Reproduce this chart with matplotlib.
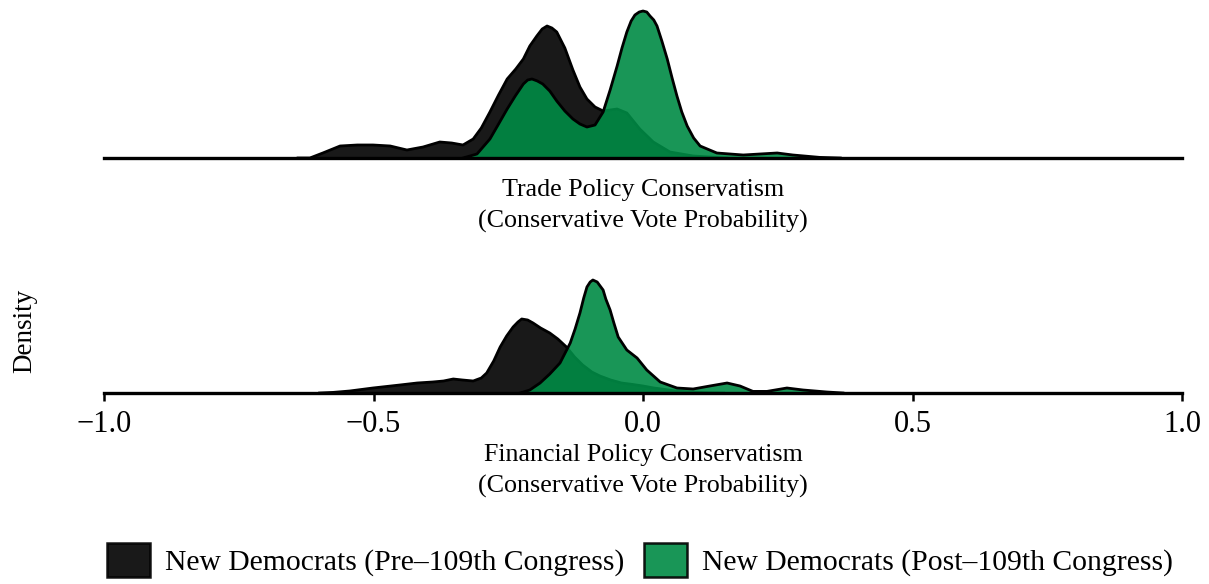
import matplotlib
matplotlib.use("Agg")
import matplotlib.pyplot as plt
from matplotlib.patches import Patch

plt.rcParams['font.family'] = ['Liberation Serif', 'DejaVu Serif']
plt.rcParams['axes.unicode_minus'] = True

# density curves (x = vote probability, y = density)
trade_pre_x = [-0.64, -0.618, -0.594, -0.562, -0.53, -0.501, -0.469, -0.438, -0.408, -0.377,
               -0.355, -0.334, -0.315, -0.30, -0.284, -0.268, -0.252, -0.236, -0.222, -0.21,
               -0.197, -0.187, -0.178, -0.169, -0.16, -0.145, -0.13, -0.117, -0.104, -0.089,
               -0.074, -0.061, -0.048, -0.03, -0.006, 0.019, 0.05, 0.093, 0.156]
trade_pre_y = [0, 0, 0.25, 0.6, 0.65, 0.65, 0.6, 0.4, 0.55, 0.8,
               0.75, 0.65, 0.95, 1.5, 2.3, 3.15, 3.95, 4.45, 4.95, 5.6,
               6.1, 6.45, 6.6, 6.5, 6.3, 5.5, 4.4, 3.55, 2.95, 2.55,
               2.35, 2.4, 2.45, 2.25, 1.45, 0.8, 0.3, 0.1, 0]

trade_post_x = [-0.334, -0.308, -0.284, -0.269, -0.252, -0.237, -0.222, -0.214, -0.206, -0.196,
                -0.186, -0.173, -0.16, -0.145, -0.13, -0.117, -0.104, -0.089, -0.074, -0.061,
                -0.048, -0.039, -0.03, -0.022, -0.015, -0.007, 0.0, 0.007, 0.013, 0.02,
                0.026, 0.035, 0.045, 0.054, 0.063, 0.072, 0.082, 0.094, 0.106,
                0.137, 0.186, 0.217, 0.249, 0.278, 0.328, 0.366]
trade_post_y = [0, 0.2, 0.95, 1.65, 2.45, 3.1, 3.7, 3.9, 3.95, 3.85,
                3.7, 3.35, 2.85, 2.35, 1.95, 1.7, 1.55, 1.65, 2.3, 3.4,
                4.6, 5.5, 6.3, 6.85, 7.15, 7.3, 7.35, 7.3, 7.1, 6.9,
                6.6, 5.85, 4.95, 4.0, 3.1, 2.3, 1.6, 1.0, 0.6,
                0.25, 0.15, 0.2, 0.25, 0.15, 0.03, 0]

fin_pre_x = [-0.60, -0.575, -0.544, -0.501, -0.451, -0.419, -0.39, -0.37, -0.352, -0.335,
             -0.315, -0.30, -0.29, -0.277, -0.265, -0.253, -0.241, -0.232, -0.225, -0.214,
             -0.204, -0.19, -0.173, -0.158, -0.142, -0.127, -0.112, -0.095, -0.08, -0.06,
             -0.04, -0.02, 0.0, 0.02, 0.04, 0.06, 0.09, 0.12, 0.15]
fin_pre_y = [0, 0.03, 0.1, 0.25, 0.4, 0.5, 0.55, 0.6, 0.7, 0.65,
             0.6, 0.75, 1.0, 1.6, 2.3, 2.85, 3.3, 3.55, 3.7, 3.65,
             3.5, 3.25, 3.0, 2.7, 2.3, 1.8, 1.4, 1.05, 0.85, 0.65,
             0.5, 0.43, 0.35, 0.25, 0.18, 0.1, 0.05, 0.015, 0]

fin_post_x = [-0.228, -0.21, -0.191, -0.173, -0.154, -0.135, -0.126, -0.117, -0.11, -0.104,
              -0.098, -0.093, -0.085, -0.074, -0.069, -0.061, -0.054, -0.046, -0.03, -0.011,
              0.007, 0.032, 0.063, 0.093, 0.124, 0.156, 0.18, 0.204, 0.23, 0.267,
              0.297, 0.341, 0.371]
fin_post_y = [0, 0.15, 0.5, 0.95, 1.5, 2.5, 3.2, 4.0, 4.75, 5.3,
              5.55, 5.65, 5.55, 5.15, 4.7, 4.15, 3.5, 2.8, 2.15, 1.75,
              1.15, 0.55, 0.25, 0.2, 0.35, 0.5, 0.35, 0.08, 0.08, 0.25,
              0.15, 0.05, 0]

xticks = [-1.0, -0.5, 0.0, 0.5, 1.0]
group_labels = ["New Democrats (Pre\u2013109th Congress)", "New Democrats (Post\u2013109th Congress)"]
panel_titles = ["Trade Policy Conservatism\n(Conservative Vote Probability)",
                "Financial Policy Conservatism\n(Conservative Vote Probability)"]

PRE_COL = "black"
POST_COL = "#008B45"
ALPHA = 0.9

W, H = 1209, 584
fig = plt.figure(figsize=(W / 100, H / 100), dpi=100)

# top panel: baseline at y=158px, bottom panel: baseline at y=393px
ax_top = fig.add_axes([104 / W, 1 - 158 / H, 1078 / W, 153 / H])
ax_bot = fig.add_axes([104 / W, 1 - 393 / H, 1078 / W, 118 / H])


def draw_panel(ax, pre_x, pre_y, post_x, post_y, ytop):
    ax.fill_between(pre_x, pre_y, color=PRE_COL, alpha=ALPHA, lw=0, zorder=1)
    ax.plot(pre_x, pre_y, color="black", lw=2.0, zorder=1.5, solid_joinstyle="round")
    ax.fill_between(post_x, post_y, color=POST_COL, alpha=ALPHA, lw=0, zorder=2)
    ax.plot(post_x, post_y, color="black", lw=2.0, zorder=2.5, solid_joinstyle="round")
    ax.set_xlim(-1, 1)
    ax.set_ylim(0, ytop)
    for s in ["top", "right", "left"]:
        ax.spines[s].set_visible(False)
    ax.spines["bottom"].set_linewidth(2.4)
    ax.spines["bottom"].set_zorder(3)
    ax.set_yticks([])
    ax.patch.set_visible(False)


draw_panel(ax_top, trade_pre_x, trade_pre_y, trade_post_x, trade_post_y, 153 / 20)
draw_panel(ax_bot, fin_pre_x, fin_pre_y, fin_post_x, fin_post_y, 118 / 20)

ax_top.set_xticks([])
ax_bot.set_xticks(xticks)
ax_bot.set_xticklabels([f"{t:.1f}".replace("-", "\u2212") for t in xticks])
ax_bot.tick_params(axis="x", length=6, width=1.8, labelsize=22, pad=6)

fig.text(643 / W, 1 - 206 / H, panel_titles[0], ha="center", va="center",
         fontsize=18.7, linespacing=1.45)
fig.text(643 / W, 1 - 471 / H, panel_titles[1], ha="center", va="center",
         fontsize=18.7, linespacing=1.45)
fig.text(25 / W, 1 - 331 / H, "Density", rotation=90, ha="center", va="center", fontsize=19.5)

handles = [Patch(facecolor=PRE_COL, alpha=ALPHA, edgecolor="black", lw=1.8),
           Patch(facecolor=POST_COL, alpha=ALPHA, edgecolor="black", lw=1.8)]
fig.legend(handles, group_labels, loc="center", bbox_to_anchor=(640 / W, 1 - 560 / H),
           ncol=2, frameon=False, fontsize=21.3, handlelength=1.45, handleheight=1.4,
           handletextpad=0.5, columnspacing=0.68, borderaxespad=0, borderpad=0)

fig.savefig("out.png", dpi=100)
